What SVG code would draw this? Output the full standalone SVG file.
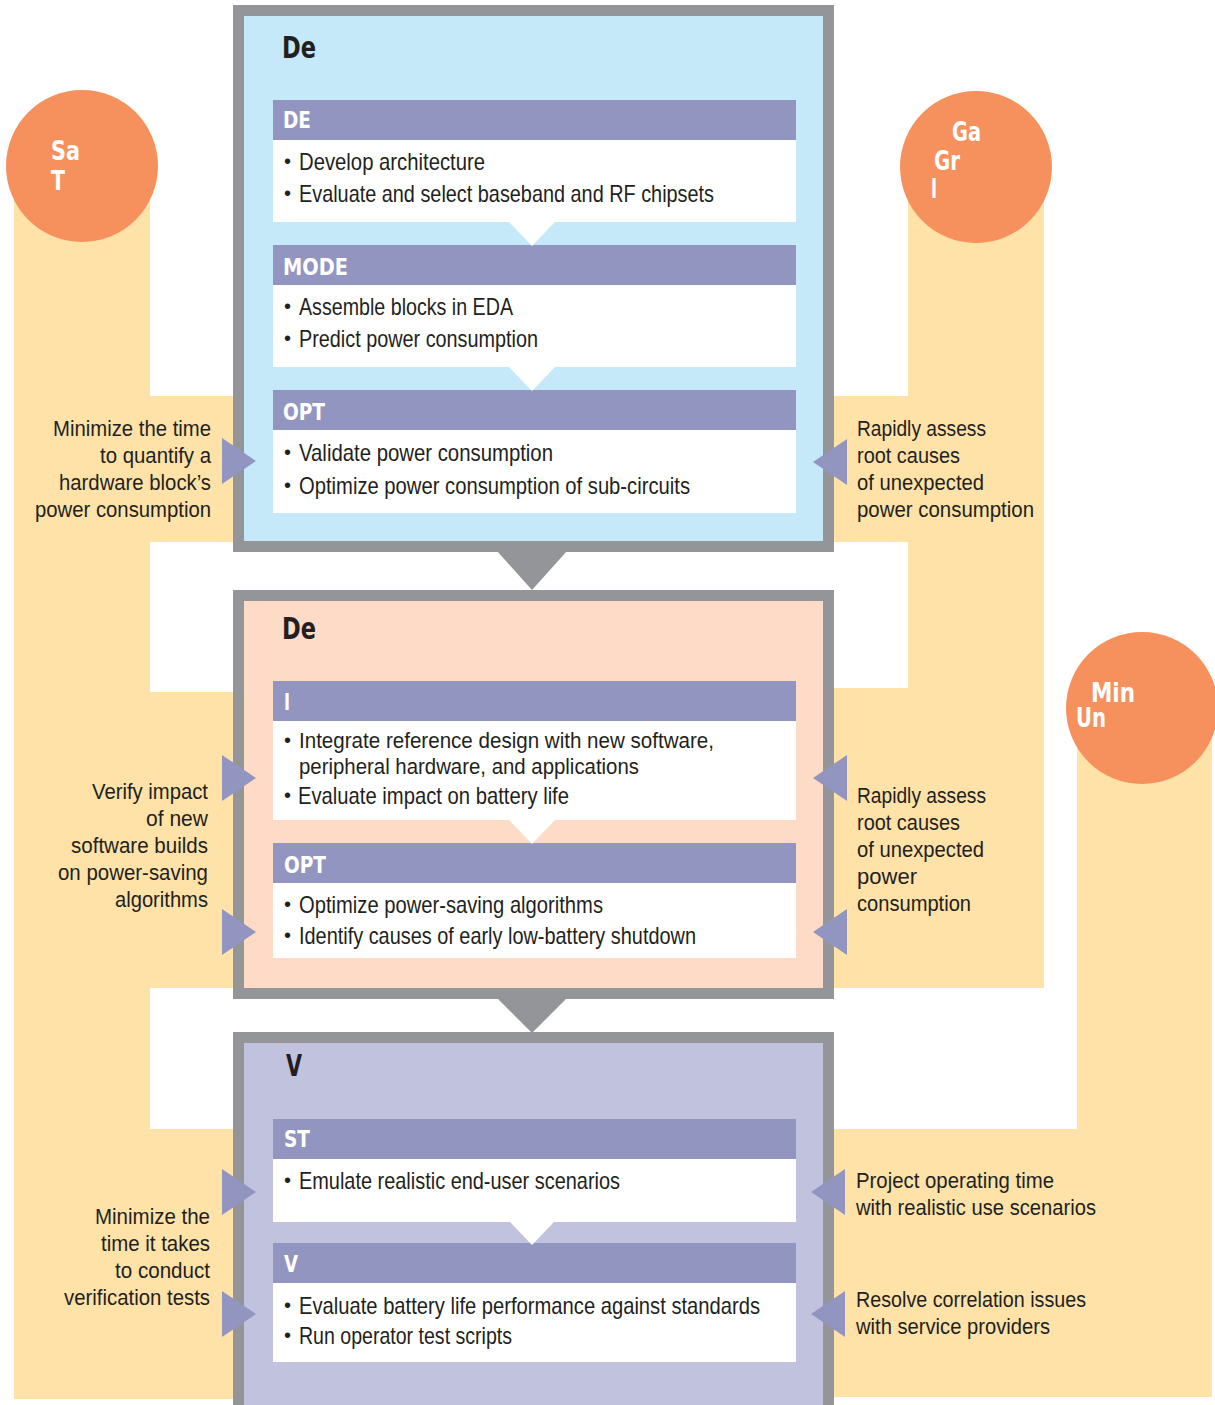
<svg xmlns="http://www.w3.org/2000/svg" width="1215" height="1405" viewBox="0 0 1215 1405">
<style>
.band{fill:#fee2a8}
.circ{fill:#f6915e}
.ctxt{font-family:"Liberation Sans Narrow","DejaVu Sans Condensed","Liberation Sans",sans-serif;font-weight:bold;font-size:26px;fill:#ffffff}
.frame{stroke:#939598;stroke-width:11}
.hdr{fill:#9395c1}
.body{fill:#ffffff}
.htxt{font-family:"Liberation Sans Narrow","DejaVu Sans Condensed","Liberation Sans",sans-serif;font-weight:bold;font-size:23px;fill:#ffffff}
.ttl{font-family:"Liberation Sans Narrow","DejaVu Sans Condensed","Liberation Sans",sans-serif;font-weight:bold;font-size:31px;fill:#231f20}
.btxt{font-family:"Liberation Sans","Arial",sans-serif;font-size:24px;fill:#231f20}
.btxt2{font-family:"Liberation Sans","Arial",sans-serif;font-size:22.5px;fill:#231f20}
.bul{font-family:"Liberation Sans","Arial",sans-serif;font-size:20px;fill:#231f20}
.stxt{font-family:"Liberation Sans","Arial",sans-serif;font-size:22px;fill:#231f20}
.arr{fill:#9395c1}
.gtri{fill:#939598}
.wtri{fill:#ffffff}
</style>
<rect width="1215" height="1405" fill="#ffffff"/>
<g id="band-left">
<path class="band" d="M14,166 H150 V396 H240 V542 H150 V692 H240 V988 H150 V1129 H240 V1399 H14 Z"/>
<circle class="circ" cx="82" cy="166" r="76"/>
<text class="ctxt" x="51" y="160" textLength="29" lengthAdjust="spacingAndGlyphs">Sa</text>
<text class="ctxt" x="51" y="190" textLength="14" lengthAdjust="spacingAndGlyphs">T</text>
</g>
<g id="band-right1">
<path class="band" d="M908,167 H1044 V988 H833 V688 H908 V542 H833 V396 H908 Z"/>
<circle class="circ" cx="976" cy="167" r="76"/>
<text class="ctxt" x="952" y="141" textLength="29" lengthAdjust="spacingAndGlyphs">Ga</text>
<text class="ctxt" x="934" y="170" textLength="26" lengthAdjust="spacingAndGlyphs">Gr</text>
<text class="ctxt" x="931" y="198" textLength="6" lengthAdjust="spacingAndGlyphs">I</text>
</g>
<g id="band-right2">
<path class="band" d="M1077,708 H1212 V1397 H833 V1129 H1077 Z"/>
<circle class="circ" cx="1142" cy="708" r="76"/>
<text class="ctxt" x="1091" y="702" textLength="44" lengthAdjust="spacingAndGlyphs">Min</text>
<text class="ctxt" x="1076" y="727" textLength="30" lengthAdjust="spacingAndGlyphs">Un</text>
</g>
<g id="box-design">
<rect class="frame" x="238.5" y="10.5" width="590" height="536" fill="#c5e9f8"/>
<text class="ttl" x="282" y="58" textLength="34" lengthAdjust="spacingAndGlyphs">De</text>
<rect class="hdr" x="273" y="100" width="523" height="40"/>
<rect class="body" x="273" y="140" width="523" height="82"/>
<text class="htxt" x="283" y="128" textLength="28" lengthAdjust="spacingAndGlyphs">DE</text>
<text class="bul" x="284" y="168">•</text>
<text class="btxt" x="299" y="170" textLength="186" lengthAdjust="spacingAndGlyphs">Develop architecture</text>
<text class="bul" x="284" y="200">•</text>
<text class="btxt" x="299" y="202" textLength="415" lengthAdjust="spacingAndGlyphs">Evaluate and select baseband and RF chipsets</text>
<rect class="hdr" x="273" y="245" width="523" height="40"/>
<rect class="body" x="273" y="285" width="523" height="82"/>
<text class="htxt" x="283" y="275" textLength="65" lengthAdjust="spacingAndGlyphs">MODE</text>
<text class="bul" x="284" y="313">•</text>
<text class="btxt" x="299" y="315" textLength="214" lengthAdjust="spacingAndGlyphs">Assemble blocks in EDA</text>
<text class="bul" x="284" y="345">•</text>
<text class="btxt" x="299" y="347" textLength="239" lengthAdjust="spacingAndGlyphs">Predict power consumption</text>
<rect class="hdr" x="273" y="390" width="523" height="40"/>
<rect class="body" x="273" y="430" width="523" height="83"/>
<text class="htxt" x="283" y="420" textLength="42" lengthAdjust="spacingAndGlyphs">OPT</text>
<text class="bul" x="284" y="459">•</text>
<text class="btxt" x="299" y="461" textLength="254" lengthAdjust="spacingAndGlyphs">Validate power consumption</text>
<text class="bul" x="284" y="492">•</text>
<text class="btxt" x="299" y="494" textLength="391" lengthAdjust="spacingAndGlyphs">Optimize power consumption of sub-circuits</text>
</g>
<g id="box-develop">
<rect class="frame" x="238.5" y="595.5" width="590" height="398" fill="#fedbc6"/>
<text class="ttl" x="282" y="639" textLength="34" lengthAdjust="spacingAndGlyphs">De</text>
<rect class="hdr" x="273" y="681" width="523" height="40"/>
<rect class="body" x="273" y="721" width="523" height="99"/>
<text class="htxt" x="284" y="710" textLength="6" lengthAdjust="spacingAndGlyphs">I</text>
<text class="bul" x="284" y="747">•</text>
<text class="btxt2" x="299" y="748" textLength="415" lengthAdjust="spacingAndGlyphs">Integrate reference design with new software,</text>
<text class="btxt2" x="299" y="774" textLength="340" lengthAdjust="spacingAndGlyphs">peripheral hardware, and applications</text>
<text class="bul" x="284" y="802">•</text>
<text class="btxt" x="298" y="804" textLength="271" lengthAdjust="spacingAndGlyphs">Evaluate impact on battery life</text>
<rect class="hdr" x="273" y="843" width="523" height="40"/>
<rect class="body" x="273" y="883" width="523" height="75"/>
<text class="htxt" x="284" y="873" textLength="42" lengthAdjust="spacingAndGlyphs">OPT</text>
<text class="bul" x="284" y="911">•</text>
<text class="btxt" x="299" y="913" textLength="304" lengthAdjust="spacingAndGlyphs">Optimize power-saving algorithms</text>
<text class="bul" x="284" y="942">•</text>
<text class="btxt" x="299" y="944" textLength="397" lengthAdjust="spacingAndGlyphs">Identify causes of early low-battery shutdown</text>
</g>
<g id="box-verify">
<rect class="frame" x="238.5" y="1037.5" width="590" height="380" fill="#c1c3de"/>
<text class="ttl" x="286" y="1076" textLength="16" lengthAdjust="spacingAndGlyphs">V</text>
<rect class="hdr" x="273" y="1119" width="523" height="40"/>
<rect class="body" x="273" y="1159" width="523" height="63"/>
<text class="htxt" x="284" y="1147" textLength="26" lengthAdjust="spacingAndGlyphs">ST</text>
<text class="bul" x="284" y="1187">•</text>
<text class="btxt" x="299" y="1189" textLength="321" lengthAdjust="spacingAndGlyphs">Emulate realistic end-user scenarios</text>
<rect class="hdr" x="273" y="1243" width="523" height="40"/>
<rect class="body" x="273" y="1283" width="523" height="79"/>
<text class="htxt" x="284" y="1272" textLength="14" lengthAdjust="spacingAndGlyphs">V</text>
<text class="bul" x="284" y="1312">•</text>
<text class="btxt" x="299" y="1314" textLength="461" lengthAdjust="spacingAndGlyphs">Evaluate battery life performance against standards</text>
<text class="bul" x="284" y="1342">•</text>
<text class="btxt" x="299" y="1344" textLength="213" lengthAdjust="spacingAndGlyphs">Run operator test scripts</text>
</g>
<g id="side-labels">
<text class="stxt" x="53" y="436" textLength="158" lengthAdjust="spacingAndGlyphs">Minimize the time</text>
<text class="stxt" x="100" y="463" textLength="111" lengthAdjust="spacingAndGlyphs">to quantify a</text>
<text class="stxt" x="59" y="490" textLength="152" lengthAdjust="spacingAndGlyphs">hardware block’s</text>
<text class="stxt" x="35" y="517" textLength="176" lengthAdjust="spacingAndGlyphs">power consumption</text>
<text class="stxt" x="92" y="799" textLength="116" lengthAdjust="spacingAndGlyphs">Verify impact</text>
<text class="stxt" x="146" y="826" textLength="62" lengthAdjust="spacingAndGlyphs">of new</text>
<text class="stxt" x="71" y="853" textLength="137" lengthAdjust="spacingAndGlyphs">software builds</text>
<text class="stxt" x="58" y="880" textLength="150" lengthAdjust="spacingAndGlyphs">on power-saving</text>
<text class="stxt" x="115" y="907" textLength="93" lengthAdjust="spacingAndGlyphs">algorithms</text>
<text class="stxt" x="95" y="1224" textLength="115" lengthAdjust="spacingAndGlyphs">Minimize the</text>
<text class="stxt" x="101" y="1251" textLength="109" lengthAdjust="spacingAndGlyphs">time it takes</text>
<text class="stxt" x="115" y="1278" textLength="95" lengthAdjust="spacingAndGlyphs">to conduct</text>
<text class="stxt" x="64" y="1305" textLength="146" lengthAdjust="spacingAndGlyphs">verification tests</text>
<text class="stxt" x="857" y="436" textLength="129" lengthAdjust="spacingAndGlyphs">Rapidly assess</text>
<text class="stxt" x="857" y="463" textLength="103" lengthAdjust="spacingAndGlyphs">root causes</text>
<text class="stxt" x="857" y="490" textLength="127" lengthAdjust="spacingAndGlyphs">of unexpected</text>
<text class="stxt" x="857" y="517" textLength="177" lengthAdjust="spacingAndGlyphs">power consumption</text>
<text class="stxt" x="857" y="803" textLength="129" lengthAdjust="spacingAndGlyphs">Rapidly assess</text>
<text class="stxt" x="857" y="830" textLength="103" lengthAdjust="spacingAndGlyphs">root causes</text>
<text class="stxt" x="857" y="857" textLength="127" lengthAdjust="spacingAndGlyphs">of unexpected</text>
<text class="stxt" x="857" y="884" textLength="60" lengthAdjust="spacingAndGlyphs">power</text>
<text class="stxt" x="857" y="911" textLength="114" lengthAdjust="spacingAndGlyphs">consumption</text>
<text class="stxt" x="856" y="1188" textLength="198" lengthAdjust="spacingAndGlyphs">Project operating time</text>
<text class="stxt" x="856" y="1215" textLength="240" lengthAdjust="spacingAndGlyphs">with realistic use scenarios</text>
<text class="stxt" x="856" y="1307" textLength="230" lengthAdjust="spacingAndGlyphs">Resolve correlation issues</text>
<text class="stxt" x="856" y="1334" textLength="194" lengthAdjust="spacingAndGlyphs">with service providers</text>
</g>
<g id="connectors">
<polygon class="gtri" points="497,551 567,551 532,590"/>
<polygon class="gtri" points="497,998 567,998 532,1033"/>
<polygon class="wtri" points="508,221 556,221 532,246"/>
<polygon class="wtri" points="508,366 556,366 532,391"/>
<polygon class="wtri" points="508,819 556,819 532,844"/>
<polygon class="wtri" points="509,1221 555,1221 532,1245"/>
<polygon class="arr" points="222,438 256,461 222,484"/>
<polygon class="arr" points="222,755 256,778 222,801"/>
<polygon class="arr" points="222,909 256,932 222,955"/>
<polygon class="arr" points="222,1169 256,1192 222,1215"/>
<polygon class="arr" points="222,1291 256,1314 222,1337"/>
<polygon class="arr" points="847,439 813,462 847,485"/>
<polygon class="arr" points="847,755 813,778 847,801"/>
<polygon class="arr" points="847,909 813,932 847,955"/>
<polygon class="arr" points="845,1169 811,1192 845,1215"/>
<polygon class="arr" points="845,1291 811,1314 845,1337"/>
</g>
</svg>
